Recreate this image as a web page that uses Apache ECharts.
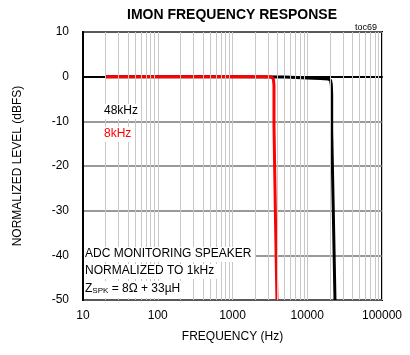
<!DOCTYPE html>
<html><head><meta charset="utf-8">
<script src="https://cdn.jsdelivr.net/npm/echarts@6/dist/echarts.min.js"></script>
<style>html,body{margin:0;padding:0;background:#fff}#c{width:410px;height:355px}</style>
</head><body><div id="c"></div>
<script>
const xTicks = [10, 100, 1000, 10000, 100000];
const yTicks = [-50, -40, -30, -20, -10, 0, 10];
const minorFreqs = [20,30,40,50,60,70,80,90,200,300,400,500,600,700,800,900,2000,3000,4000,5000,6000,7000,8000,9000,20000,30000,40000,50000,60000,70000,80000,90000];
const blackFreq  = [20, 1000, 5000, 10000, 15000, 19000, 20500, 21000, 21230, 21230, 22300, 22300, 23500, 23500];
const blackLevel = [0, 0, -0.1, -0.3, -0.4, -0.5, -0.8, -1.8, -4, -12, -12.3, -30, -30.3, -50];
const redFreq  = [20, 1000, 3000, 3350, 3530, 3590, 3590, 3760, 3760, 3930, 3930];
const redLevel = [0, 0, 0, -0.1, -0.6, -2, -11, -11.3, -32, -32.3, -50];

const ff = 'Liberation Sans, Arial, sans-serif';
function box(x, y, w, h) {
  return {type: 'rect', z: 50, shape: {x: x, y: y, width: w, height: h}, style: {fill: '#fff'}, silent: true};
}
function txt(x, y, t, color) {
  return {type: 'text', z: 51, x: x, y: y, silent: true, style: {text: t, font: '12px ' + ff, fill: color || '#000'}};
}
const chart = echarts.init(document.getElementById('c'));
chart.setOption({
  animation: false,
  title: {text: 'IMON FREQUENCY RESPONSE', left: 227, textAlign: 'center', top: 3,
    textStyle: {fontFamily: ff, fontSize: 14, fontWeight: 'bold', color: '#000'}},
  grid: {left: 83, right: 28, top: 32, bottom: 55, show: true, borderColor: '#000', borderWidth: 2, backgroundColor: 'transparent'},
  xAxis: {type: 'log', logBase: 10, min: 10, max: 100000,
    name: 'FREQUENCY (Hz)', nameLocation: 'middle', nameGap: 31,
    nameTextStyle: {fontFamily: ff, fontSize: 12, color: '#000'},
    axisLine: {show: true, lineStyle: {color: '#000', width: 2}},
    axisTick: {show: false},
    axisLabel: {fontFamily: ff, fontSize: 12, color: '#000', margin: 10,
      formatter: v => xTicks.includes(Math.round(v)) ? String(Math.round(v)) : ''},
    splitLine: {show: true, lineStyle: {color: '#c8c8c8', width: 1}}},
  yAxis: {type: 'value', min: -50, max: 10, interval: 10,
    name: 'NORMALIZED LEVEL (dBFS)', nameLocation: 'middle', nameGap: 59,
    nameTextStyle: {fontFamily: ff, fontSize: 12, color: '#000'},
    axisLine: {show: true, lineStyle: {color: '#000', width: 2}},
    axisTick: {show: false},
    axisLabel: {fontFamily: ff, fontSize: 12, color: '#000', margin: 14,
      formatter: v => yTicks.includes(v) ? String(v) : ''},
    splitLine: {show: true, lineStyle: {color: '#777', width: 1.5}}},
  graphic: [
    {type: 'text', x: 355, y: 23, silent: true, style: {text: 'toc69', font: '9px ' + ff, fill: '#000'}},
    box(103, 104, 35, 15), txt(104, 105, '48kHz'),
    box(103, 127, 28, 15), txt(104, 128, '8kHz', '#f00'),
    box(84, 247, 171, 15), txt(85, 248, 'ADC MONITORING SPEAKER'),
    box(84, 264, 133, 15), txt(85, 265, 'NORMALIZED TO 1kHz'),
    box(84, 281, 102, 17),
    {type: 'text', z: 51, x: 85, y: 282, silent: true, style: {
      text: '{a|Z}{s|SPK}{a| = 8Ω + 33µH}',
      rich: {a: {fontFamily: ff, fontSize: 12, color: '#000'},
             s: {fontFamily: ff, fontSize: 8, color: '#000', padding: [5,0,0,0]}}}}
  ],
  series: [
    {type: 'line', name: 'grid', data: [], silent: true, z: 1,
      markLine: {silent: true, symbol: 'none', label: {show: false},
        lineStyle: {color: '#c8c8c8', width: 1, type: 'solid'},
        data: minorFreqs.map(f => ({xAxis: f}))}},
    {type: 'line', name: '48kHz', showSymbol: false, z: 3,
      data: blackFreq.map((f, i) => [f, blackLevel[i]]),
      lineStyle: {color: '#000', width: 3}},
    {type: 'line', name: '8kHz', showSymbol: false, z: 4,
      data: redFreq.map((f, i) => [f, redLevel[i]]),
      lineStyle: {color: '#f00', width: 3}}
  ]
});
</script></body></html>
